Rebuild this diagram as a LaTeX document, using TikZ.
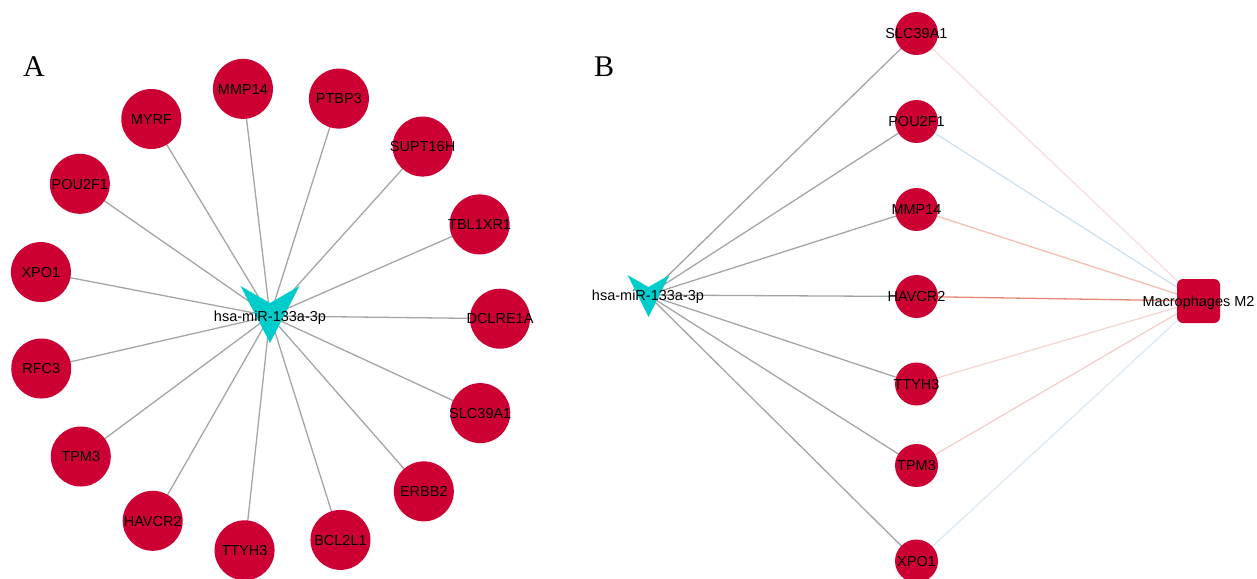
\documentclass[tikz,border=0pt]{standalone}
\usepackage{fontspec}
\setmainfont{Liberation Sans}
\newfontfamily\panelfont{Liberation Serif}
\usetikzlibrary{backgrounds}

\definecolor{nodered}{RGB}{204,0,51}
\definecolor{mirteal}{RGB}{0,204,204}
\definecolor{edgegray}{RGB}{165,165,165}
\definecolor{eSLC}{RGB}{246,222,222}
\definecolor{ePOU}{RGB}{206,225,239}
\definecolor{eMMP}{RGB}{243,192,178}
\definecolor{eHAV}{RGB}{232,136,116}
\definecolor{eTTY}{RGB}{245,214,210}
\definecolor{eTPM}{RGB}{244,207,203}
\definecolor{eXPO}{RGB}{220,233,244}

\begin{document}
\begin{tikzpicture}[x=1pt,y=-1pt,
  txt/.style={font=\fontsize{14.5}{16}\selectfont, text=black, inner sep=0,
              text height=10.4pt, text depth=0pt},
  geneA/.style={circle, fill=nodered, inner sep=0, minimum size=60,
                label={[txt]center:#1}},
  geneB/.style={circle, fill=nodered, inner sep=0, minimum size=43,
                label={[txt]center:#1}},
  cellbox/.style={fill=nodered, rounded corners=6, inner sep=0,
                  minimum width=43, minimum height=44, label={[txt]center:#1}},
  link/.style={draw=edgegray, line width=1.3pt},
  tint/.style={draw=#1, line width=1.3pt},
  panel/.style={font=\panelfont\fontsize{30}{30}\selectfont, inner sep=0}
]
\useasboundingbox (0,0) rectangle (1257,578);

% panel letters
\node[panel] (pA) at (34,67) {A};
\node[panel] (pB) at (604,67) {B};

% ---------- panel A: miRNA hub with its 15 targets ----------
\fill[mirteal, shift={(270,315)}] (-29.5,-29) -- (0,-12) -- (29.5,-29) -- (0,28) -- cycle;
\node[txt] (hubA) at (270,316) {hsa-miR-133a-3p};

\coordinate (ringA) at (268,319.5);
\foreach \lab [count=\i, evaluate=\i as \ang using -96.2+24*(\i-1)] in
    {MMP14,PTBP3,SUPT16H,TBL1XR1,DCLRE1A,SLC39A1,ERBB2,
     BCL2L1,TTYH3,HAVCR2,TPM3,RFC3,XPO1,POU2F1,MYRF}
  \node[geneA=\lab] (a\i) at ([shift={(ringA)}]\ang:232) {};

\begin{scope}[on background layer]
  \foreach \i in {1,...,15}
    \draw[link] (hubA.center) -- (a\i.center);
\end{scope}

% ---------- panel B: miRNA -> genes -> Macrophages M2 ----------
\fill[mirteal, shift={(648.5,296)}] (-21,-21) -- (0,-9) -- (21,-21) -- (0,21) -- cycle;
\node[txt] (hubB) at (648,295) {hsa-miR-133a-3p};

\node[geneB=SLC39A1] (b1) at (916.5,33.5) {};
\node[geneB=POU2F1]  (b2) at (916.5,121.5) {};
\node[geneB=MMP14]   (b3) at (916.5,209.5) {};
\node[geneB=HAVCR2]  (b4) at (916.5,296.5) {};
\node[geneB=TTYH3]   (b5) at (916.5,384) {};
\node[geneB=TPM3]    (b6) at (916.5,465.5) {};
\node[geneB=XPO1]    (b7) at (916.5,561) {};

\node[cellbox=Macrophages M2] (m2) at (1198.5,301) {};

\begin{scope}[on background layer]
  \foreach \i in {1,...,7}
    \draw[link] (hubB.center) -- (b\i.center);
  \draw[tint=eSLC] (b1.center) -- (m2.center);
  \draw[tint=ePOU] (b2.center) -- (m2.center);
  \draw[tint=eMMP] (b3.center) -- (m2.center);
  \draw[tint=eHAV] (b4.center) -- (m2.center);
  \draw[tint=eTTY] (b5.center) -- (m2.center);
  \draw[tint=eTPM] (b6.center) -- (m2.center);
  \draw[tint=eXPO] (b7.center) -- (m2.center);
\end{scope}
\end{tikzpicture}
\end{document}
